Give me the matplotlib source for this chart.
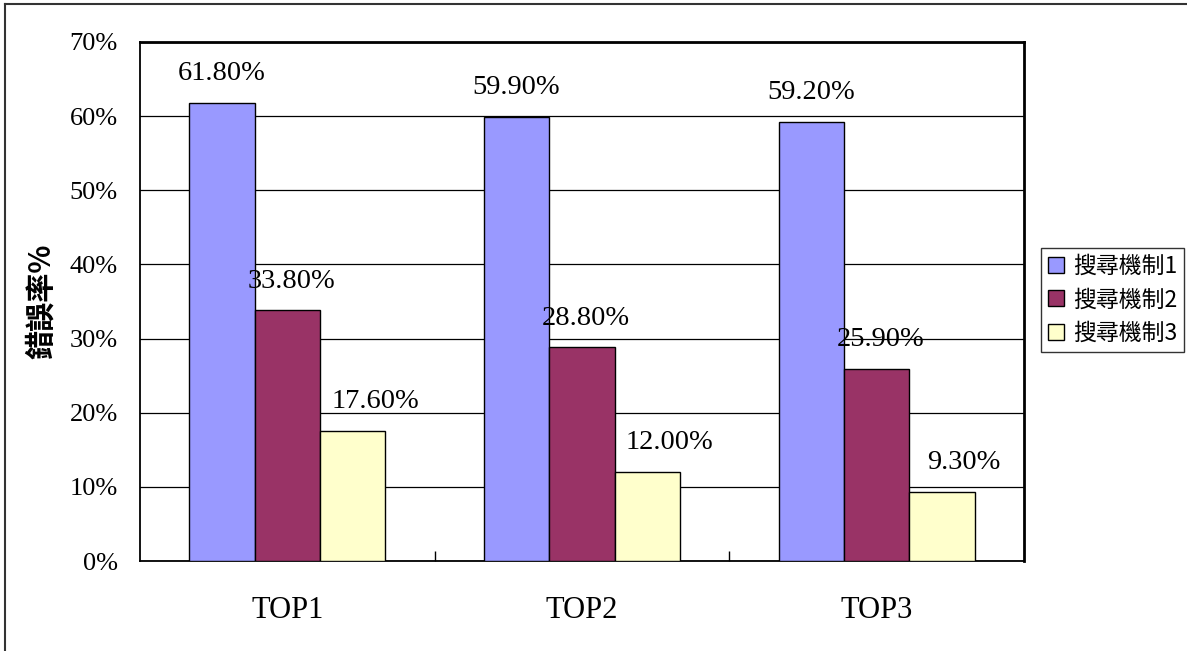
import matplotlib.pyplot as plt
import matplotlib
import numpy as np
from matplotlib.lines import Line2D

matplotlib.rcParams['font.family'] = ['Liberation Serif', 'Noto Sans CJK TC']

categories = ['TOP1', 'TOP2', 'TOP3']
series_names = ['搜尋機制1', '搜尋機制2', '搜尋機制3']
mech1 = [61.8, 59.9, 59.2]
mech2 = [33.8, 28.8, 25.9]
mech3 = [17.6, 12.0, 9.3]
yticks = [0, 10, 20, 30, 40, 50, 60, 70]

colors = ['#9999FF', '#993366', '#FFFFCC']
label_dx = [0, 3, 16]   # label x shift in points, per series

fig = plt.figure(figsize=(11.87, 6.51), dpi=100)
ax = fig.add_axes([140 / 1187, 90 / 651, 884 / 1187, 519 / 651])

x = np.arange(len(categories))
w = 0.222
for i, vals in enumerate([mech1, mech2, mech3]):
    xs = x + (i - 1) * w
    ax.bar(xs, vals, width=w, color=colors[i], edgecolor='black',
           linewidth=1.0, label=series_names[i], zorder=3)
    for xi, v in zip(xs, vals):
        ax.annotate(f'{v:.2f}%', xy=(xi, v), xytext=(label_dx[i], 21),
                    textcoords='offset points', ha='center', va='center',
                    fontsize=20.5, family='Liberation Serif', zorder=4)

ax.set_xlim(-0.5, 2.5)
ax.set_ylim(0, 70)
ax.set_yticks(yticks)
ax.set_yticklabels([f'{t}%' for t in yticks], fontsize=19)
ax.yaxis.grid(True, color='black', linewidth=0.9, zorder=0)
ax.tick_params(axis='y', length=0, pad=16)

ax.set_xticks(x)
ax.set_xticklabels(categories, fontsize=22)
ax.tick_params(axis='x', which='major', length=0, pad=25)
ax.set_xticks([0.5, 1.5], minor=True)
ax.tick_params(axis='x', which='minor', direction='in', length=7, width=1)

for s in ['top', 'right']:
    ax.spines[s].set_linewidth(2)
for s in ['left', 'bottom']:
    ax.spines[s].set_linewidth(1.3)

ax.set_ylabel('錯誤率%', family=['Noto Sans CJK TC'], fontsize=21,
              fontweight='bold', labelpad=10)

leg = ax.legend(loc='center left', bbox_to_anchor=(1.019, 0.503),
                prop={'family': 'Noto Sans CJK TC', 'size': 16.5},
                frameon=True, fancybox=False, edgecolor='black',
                handlelength=0.7, handleheight=0.7, handletextpad=0.4,
                labelspacing=0.45, borderpad=0.3, borderaxespad=0)
leg.get_frame().set_linewidth(1)

# outer chart border
fig.add_artist(Line2D([5 / 1187, 5 / 1187], [0, 1 - 4 / 651],
                      transform=fig.transFigure, color='#333333', linewidth=1.5))
fig.add_artist(Line2D([5 / 1187, 1], [1 - 4 / 651, 1 - 4 / 651],
                      transform=fig.transFigure, color='#333333', linewidth=1.5))

plt.savefig('out.png', dpi=100)
plt.close()
